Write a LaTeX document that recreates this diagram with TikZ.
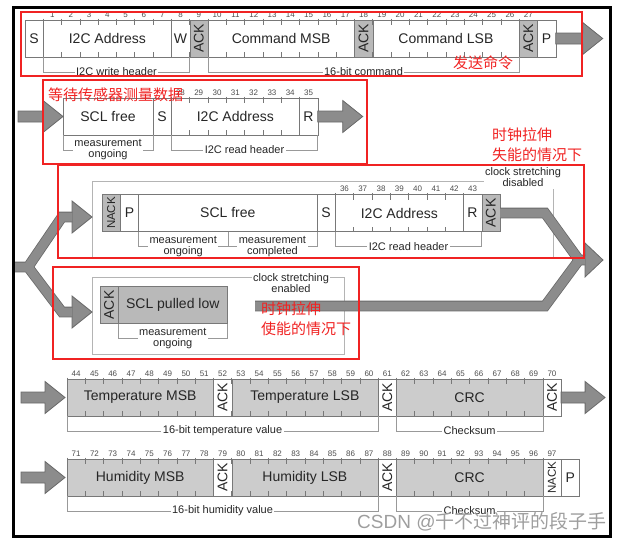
\documentclass[tikz,border=0pt]{standalone}
\usepackage{fontspec}
\usepackage{graphicx}
\setmainfont{Liberation Sans}
\newfontfamily\cjk{Noto Sans CJK SC}
\usetikzlibrary{positioning,calc}

\definecolor{boxline}{RGB}{120,120,120}
\definecolor{ackgray}{RGB}{185,185,185}
\definecolor{datagray}{RGB}{204,204,204}
\definecolor{arrowgray}{RGB}{140,140,140}
\definecolor{arrowedge}{RGB}{105,105,105}
\definecolor{framegray}{RGB}{180,180,180}
\definecolor{notered}{RGB}{240,35,35}

\newcommand{\vlabel}[1]{\rotatebox{90}{#1}}
\newcommand{\fieldbrace}[3]{\draw[braceline] #1 -- ++(0,15) -| #2 node[pos=0.25,note]{#3};}

\begin{document}
\begin{tikzpicture}[x=1pt,y=-1pt,
    cells/.style={minimum width=#1*18.3pt},
    bitbox/.style={draw=boxline,minimum height=37pt,inner sep=0pt,outer sep=0pt,
                   text=black!85,font=\fontsize{14}{16}\selectfont,cells=1},
    ackbox/.style={bitbox,fill=ackgray},
    databox/.style={bitbox,fill=datagray},
    narrow/.style={font=\fontsize{11.5}{12}\selectfont},
    bittick/.style={draw=boxline,line width=0.6pt},
    bitnum/.style={font=\fontsize{8}{8}\selectfont,text=black!70,inner sep=0pt},
    braceline/.style={draw=black!40,line width=0.6pt},
    note/.style={fill=white,inner sep=1.5pt,align=center,text=black!85,
                 font=\fontsize{11}{11}\selectfont},
    stretchframe/.style={draw=framegray,line width=0.9pt},
    pipe/.style={draw=arrowgray,line width=9pt,preaction={draw=arrowedge,line width=10.6pt}},
    arrowfill/.style={fill=arrowgray,draw=arrowedge,line width=0.8pt},
    redbox/.style={draw=notered,line width=1.1pt},
    redtext/.style={text=notered,inner sep=0pt,align=left,font=\cjk\fontsize{15}{20}\selectfont},
    pics/bigarrow/.style={code={
      \filldraw[arrowfill] (0,-5.5) -- (#1-20,-5.5) -- (#1-20,-16) -- (#1,0)
        -- (#1-20,16) -- (#1-20,5.5) -- (0,5.5) -- cycle;}}]

  \useasboundingbox (0,0) rectangle (625,541);

  \draw[stretchframe] (92,181) rectangle (553,257);
  \draw[stretchframe] (92,277) rectangle (344,354);

  % write header and command
  \node[bitbox,anchor=west] (s1) at (25,38.5) {S};
  \node[bitbox,cells=7,right=0pt of s1] (adr1) {I2C Address};
  \node[bitbox,right=0pt of adr1] (w1) {W};
  \node[ackbox,right=0pt of w1] (ack1) {\vlabel{ACK}};
  \node[bitbox,cells=8,right=0pt of ack1] (cmsb) {Command MSB};
  \node[ackbox,right=0pt of cmsb] (ack2) {\vlabel{ACK}};
  \node[bitbox,cells=8,right=0pt of ack2] (clsb) {Command LSB};
  \node[ackbox,right=0pt of clsb] (ack3) {\vlabel{ACK}};
  \node[bitbox,right=0pt of ack3] (p1) {P};

  \node[bitbox,minimum width=90pt,anchor=west] (free2) at (63,116.5) {SCL free};
  \node[bitbox,right=0pt of free2] (s2) {S};
  \node[bitbox,cells=7,right=0pt of s2] (adr2) {I2C Address};
  \node[bitbox,right=0pt of adr2] (r2) {R};

  \node[ackbox,narrow,anchor=west] (nack3) at (102,213) {\vlabel{NACK}};
  \node[bitbox,right=0pt of nack3] (p3) {P};
  \node[bitbox,minimum width=178.4pt,right=0pt of p3] (free3) {SCL free};
  \node[bitbox,right=0pt of free3] (s3) {S};
  \node[bitbox,cells=7,right=0pt of s3] (adr3) {I2C Address};
  \node[bitbox,right=0pt of adr3] (r3) {R};
  \node[ackbox,right=0pt of r3] (ack4) {\vlabel{ACK}};

  \node[ackbox,anchor=west] (ack5) at (100,305) {\vlabel{ACK}};
  \node[ackbox,minimum width=109pt,right=0pt of ack5] (low4) {SCL pulled low};

  % measurement data
  \node[databox,cells=8,anchor=west] (tmsb) at (67,397.5) {Temperature MSB};
  \node[bitbox,right=0pt of tmsb] (ack6) {\vlabel{ACK}};
  \node[databox,cells=8,right=0pt of ack6] (tlsb) {Temperature LSB};
  \node[bitbox,right=0pt of tlsb] (ack7) {\vlabel{ACK}};
  \node[databox,cells=8,right=0pt of ack7] (crc1) {CRC};
  \node[bitbox,right=0pt of crc1] (ack8) {\vlabel{ACK}};

  \node[databox,cells=8,anchor=west] (hmsb) at (67,477.5) {Humidity MSB};
  \node[bitbox,right=0pt of hmsb] (ack9) {\vlabel{ACK}};
  \node[databox,cells=8,right=0pt of ack9] (hlsb) {Humidity LSB};
  \node[bitbox,right=0pt of hlsb] (ack10) {\vlabel{ACK}};
  \node[databox,cells=8,right=0pt of ack10] (crc2) {CRC};
  \node[bitbox,narrow,right=0pt of crc2] (nack6) {\vlabel{NACK}};
  \node[bitbox,right=0pt of nack6] (p6) {P};

  \foreach \f/\n/\s in {adr1/7/1,w1/1/8,ack1/1/9,cmsb/8/10,ack2/1/18,clsb/8/19,ack3/1/27,
                        adr2/7/28,r2/1/35,adr3/7/36,r3/1/43,
                        tmsb/8/44,ack6/1/52,tlsb/8/53,ack7/1/61,crc1/8/62,ack8/1/70,
                        hmsb/8/71,ack9/1/79,hlsb/8/80,ack10/1/88,crc2/8/89,nack6/1/97}
    \foreach \i in {1,...,\n} {
      \pgfmathtruncatemacro{\bitno}{\s+\i-1}
      \node[bitnum] at ($(\f.north west)!{(\i-0.5)/\n}!(\f.north east)+(0,-5.5)$) {\bitno};
      \draw[bittick] ($(\f.north west)!{(\i-1)/\n}!(\f.north east)$) ++(0,-1.5) -- ++(0,6.5);
      \draw[bittick] ($(\f.south west)!{(\i-1)/\n}!(\f.south east)$) -- ++(0,-5);
    }

  \fieldbrace{(adr1.south west)}{(w1.south east)}{I2C write header}
  \fieldbrace{(cmsb.south west)}{(clsb.south east)}{16-bit command}
  \fieldbrace{(free2.south west)}{(free2.south east)}{measurement\\ongoing}
  \fieldbrace{(adr2.south west)}{(r2.south east)}{I2C read header}
  \fieldbrace{(free3.south west)}{(free3.south)}{measurement\\ongoing}
  \fieldbrace{(free3.south)}{(free3.south east)}{measurement\\completed}
  \fieldbrace{(adr3.south west)}{(r3.south east)}{I2C read header}
  \fieldbrace{(low4.south west)}{(low4.south east)}{measurement\\ongoing}
  \fieldbrace{(tmsb.south west)}{(tlsb.south east)}{16-bit temperature value}
  \fieldbrace{(crc1.south west)}{(crc1.south east)}{Checksum}
  \fieldbrace{(hmsb.south west)}{(hlsb.south east)}{16-bit humidity value}
  \fieldbrace{(crc2.south west)}{(crc2.south east)}{Checksum}

  \node[note] (csoff) at (523,177.5) {clock stretching\\disabled};
  \node[note] (cson) at (291,283.5) {clock stretching\\enabled};

  \pic at (p1.east) {bigarrow=47};
  \pic at ($(free2.west)+(-45,0)$) {bigarrow=45};
  \pic at (r2.east) {bigarrow=45};
  \pic at ($(tmsb.west)+(-46,0)$) {bigarrow=44};
  \pic at (ack8.east) {bigarrow=44};
  \pic at ($(hmsb.west)+(-46,0)$) {bigarrow=44};

  % split and merge
  \coordinate (splitin) at (14,267);
  \coordinate (fork) at (28,267);
  \coordinate (upbend) at (62,217);
  \coordinate (upend) at (72.3,217);
  \coordinate (dnbend) at (62,312);
  \coordinate (dnend) at (72.3,312);
  \filldraw[arrowfill] (72,201) -- (92,217) -- (72,233) -- cycle;
  \filldraw[arrowfill] (72,296) -- (92,312) -- (72,328) -- cycle;
  \draw[pipe] (splitin) -- (fork) -- (upbend) -- (upend) (fork) -- (dnbend) -- (dnend);

  \coordinate (bendA) at (545,213);
  \coordinate (lowin) at (255,306);
  \coordinate (bendB) at (545,306);
  \coordinate (merge) at (579,260);
  \coordinate (mergeend) at (585.3,260);
  \filldraw[arrowfill] (585,243) -- (603,260) -- (585,277) -- cycle;
  \draw[pipe] (ack4.east) -- (bendA) -- (merge) -- (mergeend)
              (lowin) -- (bendB) -- (merge) -- (mergeend);

  % annotations
  \draw[redbox] (21,12) rectangle (582,76);
  \draw[redbox] (43,80) rectangle (367,164);
  \draw[redbox] (58,165) rectangle (584,258);
  \draw[redbox] (53,267) rectangle (359,359);
  \node[redtext,anchor=west] (cmdnote) at (453,63) {发送命令};
  \node[redtext,anchor=west] (waitnote) at (48,95) {等待传感器测量数据};
  \node[redtext,anchor=west] (offnote) at (492,144.5) {时钟拉伸\\失能的情况下};
  \node[redtext,anchor=west] (onnote) at (261,318.5) {时钟拉伸\\使能的情况下};

  \draw[line width=3pt] (13,7.5) rectangle (610.5,536.5);
  \node[anchor=west,text=black!38,inner sep=0pt,font=\fontsize{19}{19}\selectfont] (csdn)
    at (357,522) {CSDN @{\cjk 千不过神评的段子手}};
\end{tikzpicture}
\end{document}
